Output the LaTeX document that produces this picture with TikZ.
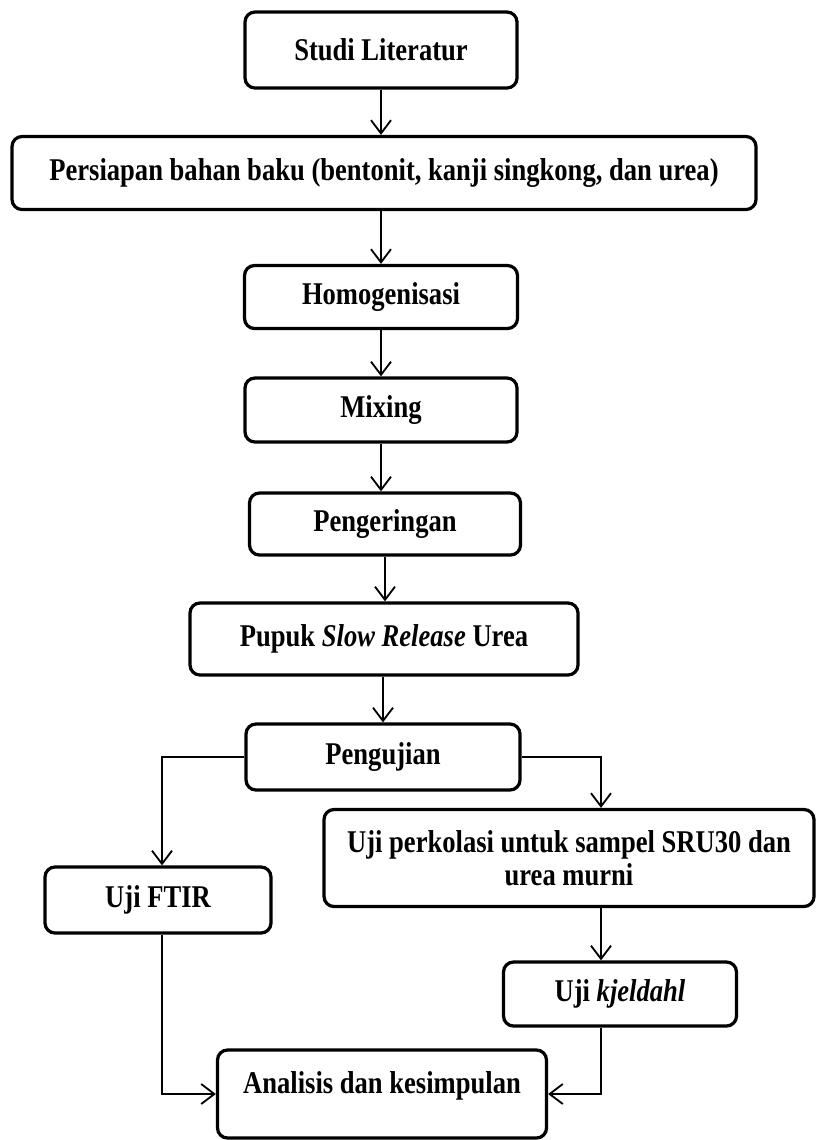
\documentclass[tikz,border=0pt]{standalone}
\usepackage{fontspec}
\setmainfont{Liberation Serif}[FakeStretch=0.84]
\usepackage{tikz}
\usetikzlibrary{arrows.meta}

\begin{document}
\begin{tikzpicture}[x=0.025cm,y=-0.025cm,
		kotak/.style={draw,line width=2.3pt,rounded corners=0.25cm,inner sep=0pt,
			font=\fontsize{22.5}{23.4}\selectfont\bfseries,align=center},
		panah/.style={line width=1.3pt,-{Straight Barb[length=0.33cm,width=0.5cm,line width=1.3pt]}}]
		\useasboundingbox[fill=white] (0,0) rectangle (816,1140);
		\node[kotak,minimum width=272*0.025cm,minimum height=76*0.025cm] (studi) at (381,50) {Studi Literatur};
		\node[kotak,minimum width=744*0.025cm,minimum height=73*0.025cm] (persiapan) at (384,173) {Persiapan bahan baku (bentonit, kanji singkong, dan urea)};
		\node[kotak,minimum width=273*0.025cm,minimum height=63*0.025cm] (homogen) at (381,297) {Homogenisasi};
		\node[kotak,minimum width=272*0.025cm,minimum height=64*0.025cm] (mixing) at (381,410) {Mixing};
		\node[kotak,minimum width=271*0.025cm,minimum height=62*0.025cm] (kering) at (385,524) {Pengeringan};
		\node[kotak,minimum width=388*0.025cm,minimum height=72*0.025cm] (pupuk) at (384,639) {Pupuk \textit{Slow Release} Urea};
		\node[kotak,minimum width=274*0.025cm,minimum height=66*0.025cm] (uji) at (383,757) {Pengujian};
		\node[kotak,minimum width=226*0.025cm,minimum height=66*0.025cm] (ftir) at (158,900) {Uji FTIR};
		\node[kotak,minimum width=490*0.025cm,minimum height=97*0.025cm] (perkolasi) at (569,858) {Uji perkolasi untuk sampel SRU30 dan\\urea murni};
		\node[kotak,minimum width=233*0.025cm,minimum height=64*0.025cm] (kjeldahl) at (620,994) {Uji \textit{kjeldahl}};
		\node[kotak,minimum width=329*0.025cm,minimum height=88*0.025cm,text depth=0.55cm] (analisis) at (382,1094) {Analisis dan kesimpulan};
		\coordinate (kiri) at (162,757);
		\coordinate (kanan) at (601,757);
		\draw[panah] (studi.south) -- (studi.south |- persiapan.north);
		\draw[panah] (persiapan.south -| studi) -- (homogen.north);
		\draw[panah] (homogen.south) -- (mixing.north);
		\draw[panah] (mixing.south) -- (mixing.south |- kering.north);
		\draw[panah] (kering.south) -- (kering.south |- pupuk.north);
		\draw[panah] (pupuk.south -| uji) -- (uji.north);
		\draw[panah] (uji.west) -| (kiri |- ftir.north);
		\draw[panah] (uji.east) -| (kanan |- perkolasi.north);
		\draw[panah] (kanan |- perkolasi.south) -- (kanan |- kjeldahl.north);
		\draw[panah] (kiri |- ftir.south) |- (analisis.west);
		\draw[panah] (kanan |- kjeldahl.south) |- (analisis.east);
\end{tikzpicture}
\end{document}
